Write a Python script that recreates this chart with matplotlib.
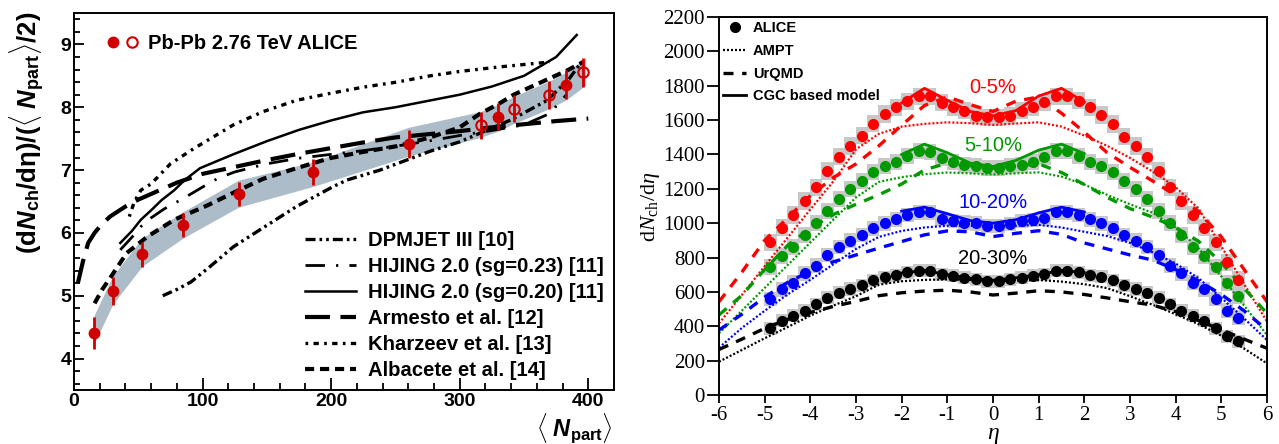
import numpy as np
import matplotlib
matplotlib.use('Agg')
import matplotlib.pyplot as plt
from matplotlib.lines import Line2D
from matplotlib.legend_handler import HandlerTuple
from matplotlib.patches import Rectangle
from matplotlib.ticker import MultipleLocator

plt.rcParams['font.family'] = ['Liberation Sans', 'DejaVu Sans']
plt.rcParams['axes.unicode_minus'] = False
plt.rcParams['mathtext.fontset'] = 'custom'
plt.rcParams['mathtext.rm'] = 'Liberation Serif'
plt.rcParams['mathtext.it'] = 'Liberation Serif:italic'
plt.rcParams['mathtext.bf'] = 'Liberation Sans:bold'
plt.rcParams['mathtext.bfit'] = 'Liberation Sans:bold:italic'

# ---------------- Left panel data ----------------
npart_filled = [15.6, 30.0, 52.6, 84.6, 128.4, 186.0, 260.4, 329.5, 382.6]
dndeta_filled = [4.41, 5.08, 5.66, 6.13, 6.62, 6.97, 7.42, 7.85, 8.36]
err_filled = [0.25, 0.22, 0.20, 0.19, 0.19, 0.20, 0.22, 0.22, 0.23]
npart_open = [316.7, 342.2, 369.6, 396.0]
dndeta_open = [7.71, 7.98, 8.19, 8.56]
err_open = [0.21, 0.21, 0.22, 0.23]

band_x = [15, 30, 53, 85, 128, 186, 260, 316, 330, 342, 370, 383, 398]
band_lo = [4.20, 4.86, 5.47, 5.92, 6.41, 6.74, 7.22, 7.52, 7.62, 7.74, 7.98, 8.12, 8.35]
band_hi = [4.66, 5.31, 5.92, 6.34, 6.84, 7.13, 7.68, 7.93, 8.05, 8.17, 8.42, 8.56, 8.79]

dpmjet_x = [69, 80, 91, 105, 124, 150, 173, 200, 212, 238, 251, 277, 300, 316, 340, 368, 385, 394]
dpmjet_y = [5.0, 5.1, 5.22, 5.45, 5.78, 6.12, 6.42, 6.72, 6.84, 7.0, 7.1, 7.3, 7.45, 7.59, 7.8, 8.11, 8.45, 8.7]

hij23_x = [36, 45, 52, 60, 70, 86, 100, 112, 125, 150, 175, 200, 225, 250, 275, 300, 325, 350, 370, 383]
hij23_y = [5.73, 5.93, 6.1, 6.24, 6.38, 6.56, 6.73, 6.87, 6.97, 7.1, 7.19, 7.25, 7.31, 7.38, 7.46, 7.55, 7.63, 7.72, 7.9, 8.2]

hij20_x = [36, 45, 52, 60, 68, 78, 86, 98, 112, 125, 150, 175, 200, 225, 250, 275, 300, 325, 350, 375, 391]
hij20_y = [5.84, 6.03, 6.21, 6.36, 6.52, 6.68, 6.84, 7.03, 7.15, 7.26, 7.46, 7.64, 7.79, 7.92, 8.0, 8.1, 8.2, 8.33, 8.5, 8.8, 9.15]

armesto_x = [3, 7, 11, 16, 20, 28, 40, 50, 60, 80, 100, 125, 150, 175, 200, 225, 250, 275, 300, 325, 350, 375, 400]
armesto_y = [5.2, 5.55, 5.84, 6.0, 6.1, 6.26, 6.42, 6.53, 6.62, 6.8, 6.94, 7.05, 7.16, 7.26, 7.35, 7.44, 7.52, 7.57, 7.62, 7.68, 7.73, 7.78, 7.82]

kharzeev_x = [43, 47, 52, 60, 75, 93, 124, 147, 173, 199, 225, 251, 277, 300, 330, 370]
kharzeev_y = [6.26, 6.5, 6.68, 6.78, 7.1, 7.34, 7.72, 7.93, 8.11, 8.22, 8.32, 8.4, 8.5, 8.57, 8.64, 8.72]

albacete_x = [16, 22, 29, 41, 57, 78, 104, 125, 147, 173, 199, 225, 251, 277, 300, 316, 330, 342, 370, 383, 396]
albacete_y = [4.88, 5.1, 5.31, 5.68, 5.94, 6.21, 6.44, 6.65, 6.86, 7.03, 7.19, 7.29, 7.38, 7.52, 7.68, 7.9, 8.05, 8.2, 8.46, 8.58, 8.72]

# ---------------- Right panel data ----------------
eta_data = [-4.875, -4.625, -4.375, -4.125, -3.875, -3.625, -3.375, -3.125, -2.875, -2.625,
            -2.375, -2.125, -1.875, -1.625, -1.375, -1.125, -0.875, -0.625, -0.375, -0.125,
            0.125, 0.375, 0.625, 0.875, 1.125, 1.375, 1.625, 1.875, 2.125, 2.375,
            2.625, 2.875, 3.125, 3.375, 3.625, 3.875, 4.125, 4.375, 4.625, 4.875, 5.125, 5.375]
alice_0_5 = [889, 974, 1048, 1129, 1209, 1304, 1387, 1449, 1510, 1580, 1635, 1674, 1710, 1738, 1738, 1700, 1674, 1655, 1626, 1616,
             1616, 1626, 1655, 1674, 1704, 1738, 1738, 1713, 1674, 1630, 1577, 1503, 1449, 1387, 1304, 1209, 1129, 1048, 974, 889, 772, 669]
alice_5_10 = [747, 809, 863, 931, 1003, 1073, 1141, 1197, 1245, 1300, 1335, 1358, 1393, 1420, 1416, 1377, 1358, 1339, 1335, 1319,
              1319, 1335, 1339, 1358, 1383, 1420, 1420, 1393, 1358, 1335, 1300, 1245, 1197, 1141, 1073, 1003, 931, 863, 809, 747, 650, 578]
alice_10_20 = [559, 615, 654, 708, 753, 815, 863, 898, 931, 970, 999, 1022, 1048, 1063, 1063, 1024, 1013, 1003, 999, 985,
               985, 995, 1013, 1018, 1028, 1063, 1063, 1048, 1022, 999, 970, 931, 898, 863, 815, 753, 708, 654, 615, 559, 491, 450]
alice_20_30 = [388, 431, 460, 491, 528, 566, 596, 617, 640, 669, 685, 698, 714, 724, 724, 704, 694, 683, 673, 663,
               663, 673, 683, 694, 704, 724, 724, 714, 698, 689, 669, 640, 617, 596, 566, 528, 491, 460, 431, 388, 343, 314]
sys_half = [50, 46, 42, 38]  # half-height of systematic boxes per centrality

eta_model = [-6.0, -5.5, -5.0, -4.5, -4.0, -3.5, -3.0, -2.5, -2.0, -1.5, -1.0, -0.5, 0.0,
             0.5, 1.0, 1.5, 2.0, 2.5, 3.0, 3.5, 4.0, 4.5, 5.0, 5.5, 6.0]
ampt_0_5 = [417, 582, 750, 915, 1080, 1242, 1430, 1520, 1562, 1578, 1587, 1582, 1572,
            1580, 1587, 1562, 1510, 1450, 1380, 1300, 1210, 1085, 865, 645, 427]
urqmd_0_5 = [543, 715, 900, 1030, 1160, 1265, 1345, 1450, 1570, 1685, 1735, 1690, 1650,
             1710, 1735, 1640, 1530, 1410, 1325, 1245, 1162, 1068, 920, 730, 543]
ampt_5_10 = [359, 491, 623, 755, 887, 1019, 1150, 1240, 1268, 1285, 1295, 1290, 1284,
             1290, 1296, 1271, 1225, 1165, 1110, 1060, 975, 855, 690, 520, 349]
urqmd_5_10 = [466, 580, 730, 870, 970, 1050, 1110, 1165, 1228, 1310, 1350, 1335, 1320,
              1335, 1345, 1295, 1225, 1150, 1085, 1035, 975, 895, 770, 620, 475]
ampt_10_20 = [275, 390, 490, 585, 670, 760, 850, 920, 955, 975, 985, 985, 980,
              985, 990, 975, 950, 925, 885, 830, 765, 680, 565, 445, 320]
urqmd_10_20 = [378, 470, 570, 655, 720, 775, 815, 855, 893, 932, 955, 950, 922,
               941, 956, 935, 885, 850, 815, 785, 730, 665, 585, 490, 378]
ampt_20_30 = [194, 262, 330, 395, 462, 520, 575, 642, 662, 670, 673, 670, 663,
              667, 669, 660, 645, 622, 575, 525, 470, 412, 345, 270, 184]
urqmd_20_30 = [265, 325, 388, 440, 480, 515, 545, 578, 595, 605, 610, 600, 582,
               593, 607, 600, 585, 565, 543, 523, 485, 433, 380, 325, 272]

eta_cgc = [-2.0, -1.5, -1.0, -0.5, 0.0, 0.5, 1.0, 1.5, 2.0]
cgc_0_5 = [1700, 1785, 1715, 1650, 1625, 1655, 1740, 1785, 1705]
cgc_5_10 = [1400, 1460, 1410, 1350, 1330, 1365, 1425, 1460, 1405]
cgc_10_20 = [1070, 1093, 1055, 1015, 1000, 1020, 1060, 1093, 1065]
cgc_20_30 = [710, 725, 700, 680, 668, 682, 700, 725, 712]

cent_labels = ['0-5%', '5-10%', '10-20%', '20-30%']
cent_label_y = [1787, 1451, 1121, 795]
cent_colors = ['#ff0000', '#009a00', '#0000ff', '#000000']

# ---------------- Figure ----------------
W, H = 1279, 444
fig = plt.figure(figsize=(W / 100, H / 100), dpi=100)
axL = fig.add_axes([74 / W, 1 - 390 / H, 540 / W, 377 / H])
axR = fig.add_axes([719 / W, 1 - 395 / H, 548 / W, 378 / H])

red = '#d00000'
axL.fill_between(band_x, band_lo, band_hi, color='#adbcc9', lw=0, zorder=1)

lines_spec = [
    (dpmjet_x, dpmjet_y, 'DPMJET III [10]', dict(lw=2.4, dashes=(3.0, 1.2, 0.8, 1.2, 0.8, 1.2))),
    (hij23_x, hij23_y, 'HIJING 2.0 (sg=0.23) [11]', dict(lw=2.0, dashes=(7, 4, 0.8, 4))),
    (hij20_x, hij20_y, 'HIJING 2.0 (sg=0.20) [11]', dict(lw=1.8, ls='-')),
    (armesto_x, armesto_y, 'Armesto et al. [12]', dict(lw=3.0, dashes=(6, 2.5))),
    (kharzeev_x, kharzeev_y, 'Kharzeev et al. [13]', dict(lw=2.4, dashes=(0.8, 1.6, 1.6, 1.6))),
    (albacete_x, albacete_y, 'Albacete et al. [14]', dict(lw=3.0, dashes=(2.2, 1.4))),
]
model_handles = []
for x, y, lab, st in lines_spec:
    h, = axL.plot(x, y, color='black', zorder=2, label=lab, **st)
    model_handles.append(h)

axL.errorbar(npart_filled, dndeta_filled, yerr=err_filled, fmt='o', color=red, ms=7.5,
             elinewidth=2.0, capsize=0, zorder=4)
axL.errorbar(npart_open, dndeta_open, yerr=err_open, fmt='o', color=red, mfc='none', mec=red,
             mew=1.5, ms=7.5, elinewidth=2.0, capsize=0, zorder=4)

axL.set_xlim(0, 420)
axL.set_ylim(3.5, 9.5)
axL.xaxis.set_major_locator(MultipleLocator(100))
axL.xaxis.set_minor_locator(MultipleLocator(20))
axL.yaxis.set_major_locator(MultipleLocator(1))
axL.yaxis.set_minor_locator(MultipleLocator(0.2))
axL.tick_params(which='both', direction='in', top=False, right=False, width=1.3, labelsize=14)
axL.xaxis.set_tick_params(which='major', length=9, pad=2)
axL.xaxis.set_tick_params(which='minor', length=5)
axL.yaxis.set_tick_params(which='major', length=7, pad=2)
axL.yaxis.set_tick_params(which='minor', length=4)
for lab in axL.get_xticklabels() + axL.get_yticklabels():
    lab.set_fontweight('bold')
for sp in axL.spines.values():
    sp.set_linewidth(1.4)

leg1 = axL.legend(handles=model_handles, loc='center left', bbox_to_anchor=(0.428, 0.224),
                  frameon=False, prop={'weight': 'bold', 'size': 14.6},
                  handlelength=2.5, handletextpad=0.62, labelspacing=0.35,
                  borderpad=0, borderaxespad=0)
axL.add_artist(leg1)
hf = Line2D([], [], marker='o', color=red, ls='none', ms=7.5)
ho = Line2D([], [], marker='o', color=red, mfc='none', mew=1.5, ls='none', ms=7.5)
axL.legend(handles=[(hf, ho)], labels=['Pb-Pb 2.76 TeV ALICE'],
           handler_map={tuple: HandlerTuple(ndivide=None, pad=0.3)},
           loc='center left', bbox_to_anchor=(0.060, 0.918), frameon=False,
           prop={'weight': 'bold', 'size': 14.5}, handlelength=1.6, handletextpad=0.45,
           borderpad=0, borderaxespad=0)

fig.text(27 / W, 1 - 12 / H,
         r'$\mathbf{(d}\mathbfit{N}_{\mathbf{ch}}\mathbf{/d\eta)/(\langle}\ \mathbfit{N}_{\mathbf{part}}\mathbf{\rangle/2)}$',
         rotation=90, ha='center', va='top', fontsize=18.5)
fig.text(613 / W, 1 - 428 / H,
         r'$\mathbf{\langle}\ \mathbfit{N}_{\mathbf{part}}\mathbf{\rangle}$',
         ha='right', va='center', fontsize=17)

# ---------------- Right panel ----------------
alice_sets = [alice_0_5, alice_5_10, alice_10_20, alice_20_30]
ampt_sets = [ampt_0_5, ampt_5_10, ampt_10_20, ampt_20_30]
urqmd_sets = [urqmd_0_5, urqmd_5_10, urqmd_10_20, urqmd_20_30]
cgc_sets = [cgc_0_5, cgc_5_10, cgc_10_20, cgc_20_30]
box_w = 0.27
for vals, hh in zip(alice_sets, sys_half):
    for e, v in zip(eta_data, vals):
        axR.add_patch(Rectangle((e - box_w / 2, v - hh), box_w, 2 * hh,
                                facecolor='#c8c8c8', edgecolor='none', zorder=1))
for col, a, u, c in zip(cent_colors, ampt_sets, urqmd_sets, cgc_sets):
    axR.plot(eta_model, a, color=col, lw=1.6, dashes=(0.9, 0.9), zorder=2)
    axR.plot(eta_model, u, color=col, lw=2.4, dashes=(3.0, 2.6), zorder=2)
    axR.plot(eta_cgc, c, color=col, lw=2.0, ls='-', zorder=2)
for col, vals in zip(cent_colors, alice_sets):
    axR.plot(eta_data, vals, 'o', color=col, ms=7, zorder=3)
for lab, yv, col in zip(cent_labels, cent_label_y, cent_colors):
    axR.text(0.0, yv, lab, color=col, fontsize=14.5, ha='center', va='center')

axR.set_xlim(-6, 6)
axR.set_ylim(0, 2200)
axR.xaxis.set_major_locator(MultipleLocator(1))
axR.yaxis.set_major_locator(MultipleLocator(200))
axR.tick_params(which='both', direction='out', top=False, right=False, width=1.3)
axR.xaxis.set_tick_params(length=6, pad=2, labelsize=15)
axR.yaxis.set_tick_params(length=9, pad=1, labelsize=15)
for lab in axR.get_xticklabels() + axR.get_yticklabels():
    lab.set_fontfamily('Liberation Serif')
for sp in axR.spines.values():
    sp.set_linewidth(1.4)

hr = [Line2D([], [], marker='o', color='black', ls='none', ms=7),
      Line2D([], [], color='black', lw=1.6, dashes=(0.9, 0.9)),
      Line2D([], [], color='black', lw=2.4, dashes=(3.0, 2.6)),
      Line2D([], [], color='black', lw=2.0)]
axR.legend(handles=hr, labels=['ALICE', 'AMPT', 'UrQMD', 'CGC based model'],
           loc='center left', bbox_to_anchor=(0.007, 0.880), frameon=False,
           prop={'weight': 'bold', 'size': 10.5}, handlelength=1.6, handletextpad=0.45,
           labelspacing=0.6, borderpad=0, borderaxespad=0)

fig.text(650 / W, 1 - 207 / H, r'$\mathrm{d}N_{\mathrm{ch}}/\mathrm{d}\eta$',
         rotation=90, ha='center', va='center', fontsize=16)
fig.text(993 / W, 1 - 435 / H, r'$\eta$', ha='center', va='center', fontsize=17)

fig.savefig('out.png', dpi=100)
